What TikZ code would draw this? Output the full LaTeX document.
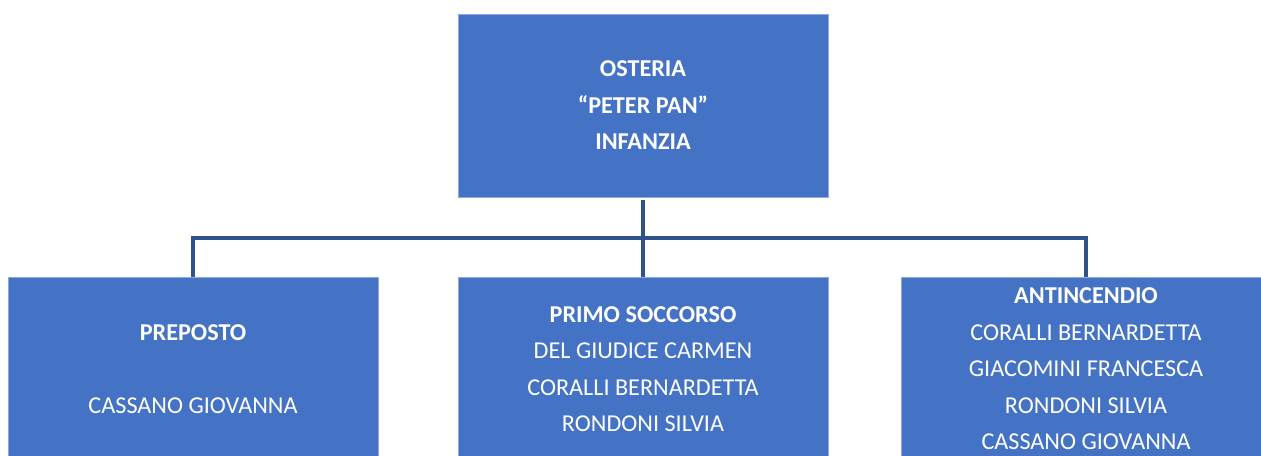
\documentclass[tikz,border=0pt]{standalone}
\usepackage{fontspec}
\setmainfont{Carlito}
\usepackage{xcolor}
\definecolor{boxfill}{HTML}{4472C4}
\definecolor{boxedge}{HTML}{8EA9DB}
\definecolor{linkblue}{HTML}{2F528F}

\begin{document}
\begin{tikzpicture}[
  x=0.5pt,
  y=-0.5pt,
  every node/.style={font=\fontsize{12.1}{18.25}\selectfont, white},
  unit/.style={rectangle, fill=boxfill, draw=boxedge, line width=0.4pt,
               inner sep=0pt, align=center,
               minimum width=185pt, minimum height=91.5pt},
  link/.style={linkblue, line width=1.6pt}
]
  % ---- page frame ----
  \useasboundingbox (0,0) rectangle (1261,455);
  \clip (0,0) rectangle (1261,455);

  % ---- top box ----
  \node[unit] (osteria) at (643,105.5)
    {\textbf{OSTERIA}\\\textbf{``PETER PAN''}\\\textbf{INFANZIA}};

  % ---- bottom row ----
  \node[unit] (preposto) at (193,369)
    {\textbf{PREPOSTO}\\\mbox{}\\CASSANO GIOVANNA};
  \node[unit] (soccorso) at (643,369)
    {\textbf{PRIMO SOCCORSO}\\DEL GIUDICE CARMEN\\CORALLI BERNARDETTA\\RONDONI SILVIA};
  \node[unit] (antincendio) at (1086,369)
    {\textbf{ANTINCENDIO}\\CORALLI BERNARDETTA\\GIACOMINI FRANCESCA\\RONDONI SILVIA\\CASSANO GIOVANNA};

  % ---- connectors ----
  \coordinate (bus) at (643,238);
  \draw[link] ([yshift=-1.5pt]osteria.south) -- (soccorso.north);
  \draw[link] (preposto.north) |- (bus) -| (antincendio.north);
\end{tikzpicture}
\end{document}
